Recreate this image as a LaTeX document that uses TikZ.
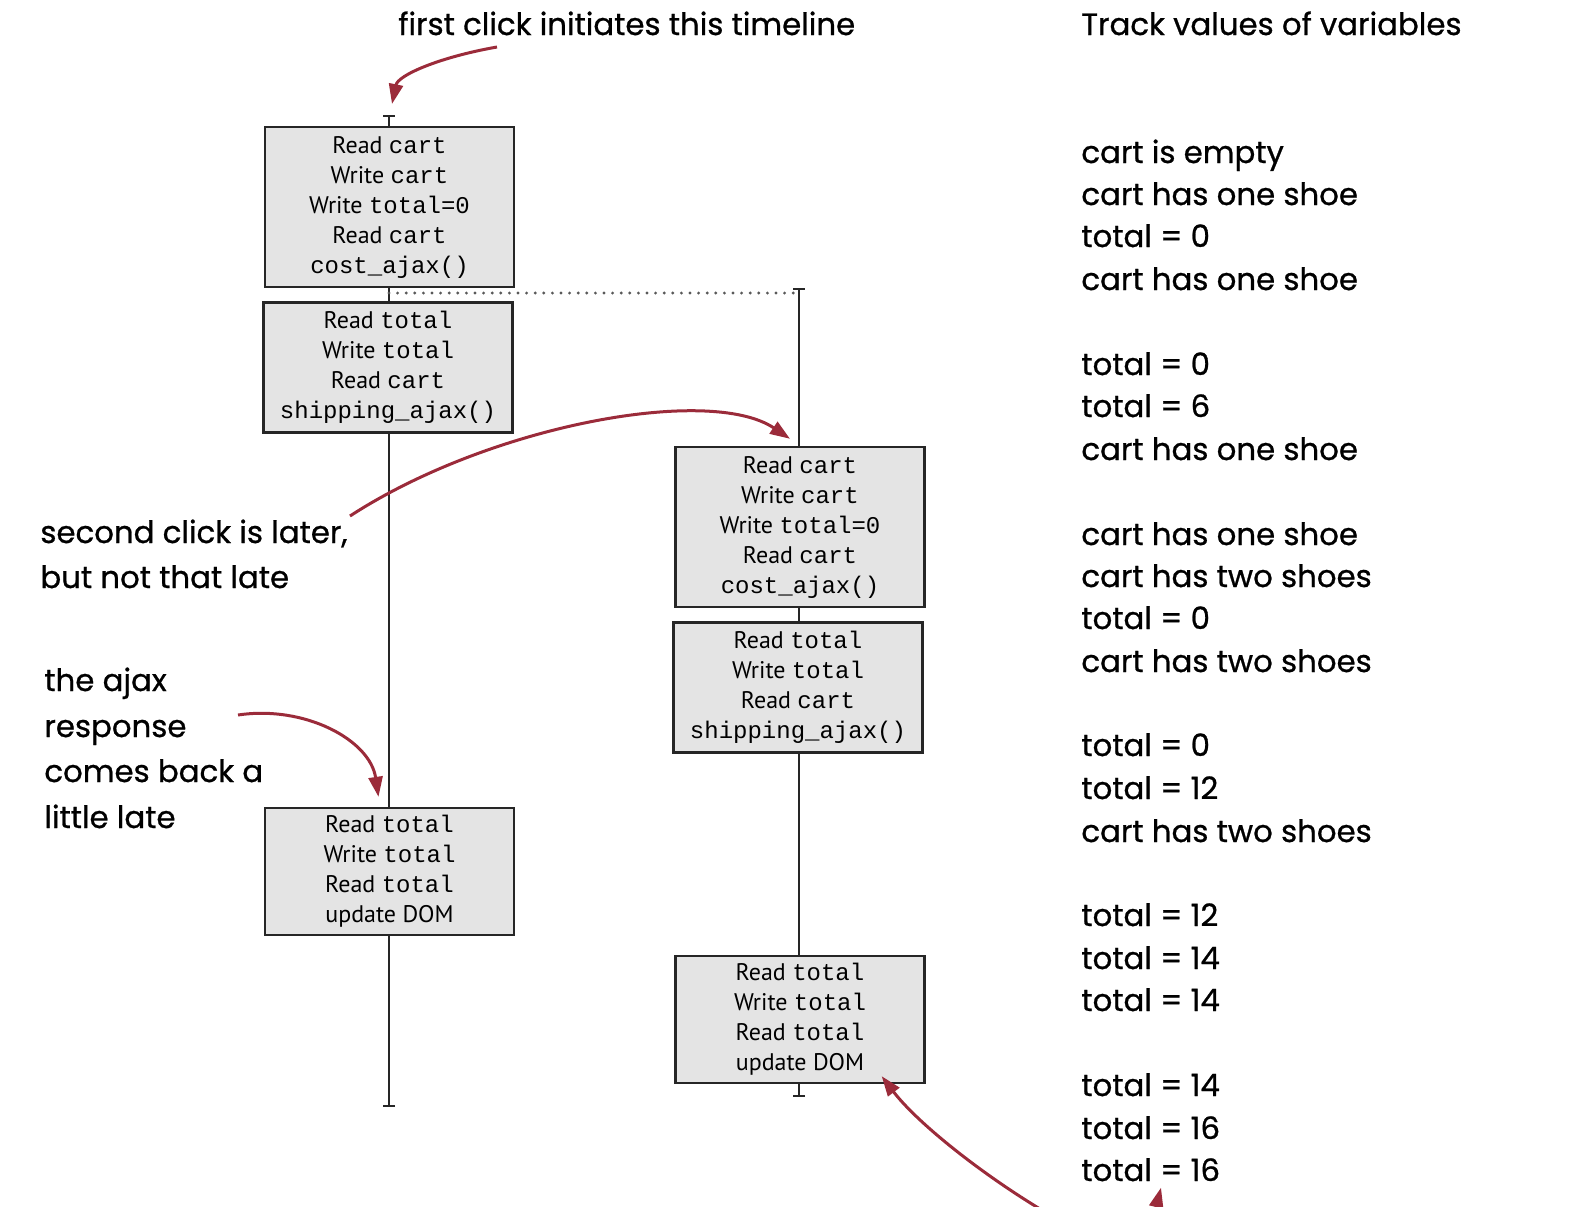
\documentclass[tikz,border=0pt]{standalone}
\usepackage{fontspec}
\setmainfont{PT Sans}
\setmonofont{Liberation Mono}
\newfontfamily\handfont{Poppins}[UprightFeatures={FakeBold=0.8}]
\usetikzlibrary{calc, positioning, arrows.meta}
\definecolor{notered}{RGB}{155, 43, 58}
\definecolor{opgrey}{RGB}{228, 228, 228}

\begin{document}
\begin{tikzpicture}[x=0.5pt, y=-0.5pt]%{{{
        \useasboundingbox (0, 0) rectangle (1570, 1206);
        \clip (0, 0) rectangle (1570, 1206);

        \tikzstyle{op} = [draw=black!85, fill=opgrey, line width=1.2pt, inner sep=0pt,
                          minimum width=124.5pt, align=center, font=\fontsize{12}{15}\selectfont];
        \tikzstyle{tl} = [draw=black!85, line width=1.2pt];
        \tikzstyle{hand} = [anchor=base west, inner sep=0pt, font=\handfont\fontsize{15.4}{20}\selectfont];
        \tikzstyle{note} = [draw=notered, line width=1.5pt, -{Triangle[length=10pt, width=7pt]}];

        % first timeline
        \node [op, minimum height=80pt] (A) at (389.5, 207)
            {Read \texttt{cart}\\Write \texttt{cart}\\Write \texttt{total=0}\\Read \texttt{cart}\\\texttt{cost\_ajax()}};
        \node [op, minimum height=65pt] (B) at (388, 367.5)
            {Read \texttt{total}\\Write \texttt{total}\\Read \texttt{cart}\\\texttt{shipping\_ajax()}};
        \node [op, minimum height=63.5pt] (C) at (389.5, 871.5)
            {Read \texttt{total}\\Write \texttt{total}\\Read \texttt{total}\\update DOM};

        % second timeline
        \node [op, minimum height=80pt] (D) at (800, 527)
            {Read \texttt{cart}\\Write \texttt{cart}\\Write \texttt{total=0}\\Read \texttt{cart}\\\texttt{cost\_ajax()}};
        \node [op, minimum height=65pt] (E) at (798, 687.5)
            {Read \texttt{total}\\Write \texttt{total}\\Read \texttt{cart}\\\texttt{shipping\_ajax()}};
        \node [op, minimum height=63.5pt] (F) at (800, 1019.5)
            {Read \texttt{total}\\Write \texttt{total}\\Read \texttt{total}\\update DOM};

        \coordinate (L0) at (389, 115);
        \coordinate (L1) at (389, 1107);
        \coordinate (R0) at (799, 288);
        \coordinate (R1) at (799, 1097);
        \coordinate (fork) at (389, 293);
        \coordinate (join) at (799, 293);

        \draw [tl, {Bar[width=6pt]}-] (L0) -- (L0 |- A.north);
        \draw [tl] (L0 |- A.south) -- (L0 |- B.north);
        \draw [tl] (L0 |- B.south) -- (L0 |- C.north);
        \draw [tl, -{Bar[width=6pt]}] (L0 |- C.south) -- (L1);

        \draw [tl, {Bar[width=6pt]}-] (R0) -- (R0 |- D.north);
        \draw [tl] (R0 |- D.south) -- (R0 |- E.north);
        \draw [tl] (R0 |- E.south) -- (R0 |- F.north);
        \draw [tl, -{Bar[width=6pt]}] (R0 |- F.south) -- (R1);

        \draw [black!65, line width=1.6pt, dash pattern=on 0pt off 4.3pt, line cap=round] (fork) -- (join);

        % notes
        \node [hand] (first) at (398, 35) {first click initiates this timeline};
        \node [hand] (track) at (1081, 35) {Track values of variables};

        \foreach \y/\txt [count=\i] in {543/{second click is later,}, 588/but not that late}{
            \node [hand] (click\i) at (40, \y) {\txt};
        }
        \foreach \y/\txt [count=\i] in {691/the ajax, 737/response, 782/comes back a, 828/little late}{
            \node [hand] (late\i) at (44, \y) {\txt};
        }

        \foreach \y/\txt [count=\i] in {
                163/cart is empty, 205/cart has one shoe, 247/total = 0, 290/cart has one shoe,
                375/total = 0, 417/total = 6, 460/cart has one shoe,
                545/cart has one shoe, 587/cart has two shoes, 629/total = 0, 672/cart has two shoes,
                756/total = 0, 799/total = 12, 842/cart has two shoes,
                926/total = 12, 969/total = 14, 1011/total = 14,
                1096/total = 14, 1139/total = 16, 1181/total = 16}{
            \node [hand] (val\i) at (1081, \y) {\txt};
        }

        % arrows
        \coordinate (first tail) at (497, 47);
        \coordinate (first tip) at ($(L0) + (3, -11)$);
        \draw [note] (first tail) .. controls (440, 57) and (398, 75) .. (first tip);

        \coordinate (click tail) at (350, 516);
        \draw [note] (click tail) .. controls (490, 425) and (710, 385) .. ($(D.north) + (-10, -7)$);

        \coordinate (late tail) at (238, 715);
        \draw [note] (late tail) .. controls (305, 705) and (370, 740) .. ($(C.north) + (-11, -10)$);

        \coordinate (dom tail) at (1045, 1212);
        \draw [note] (dom tail) .. controls (975, 1170) and (915, 1120) .. ($(F.south east) + (-44, -8)$);

        \coordinate (val tail) at (1148, 1240);
        \draw [note] (val tail) -- ($(val20.south west) + (80, 6)$);
\end{tikzpicture}
\end{document}
